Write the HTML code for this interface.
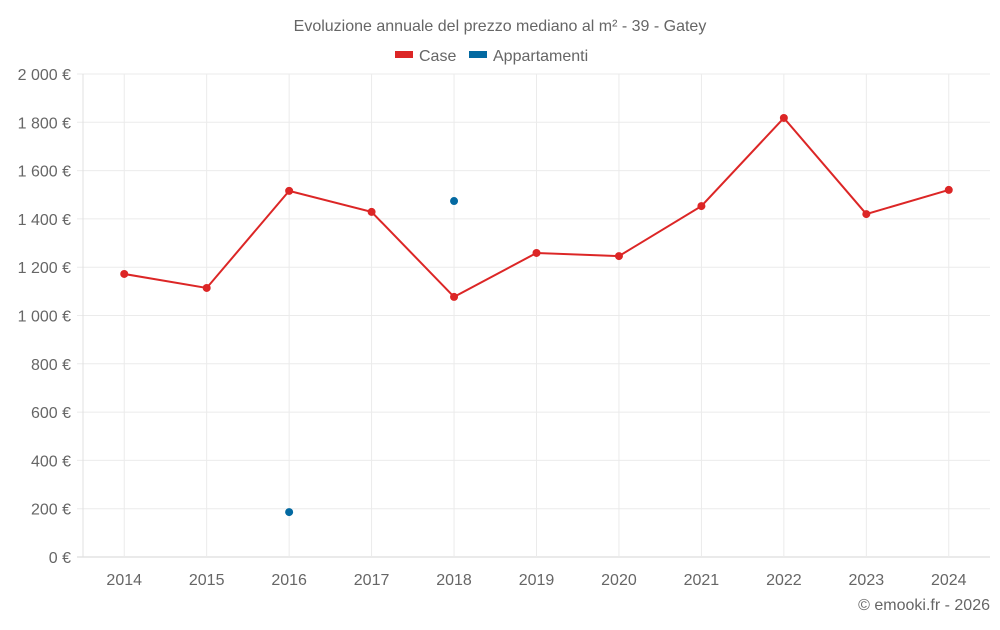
<!DOCTYPE html>
<html><head><meta charset="utf-8"><style>
body{margin:0;background:#fff;width:1000px;height:625px;overflow:hidden;font-family:"Liberation Sans",sans-serif}
text{font-family:"Liberation Sans",sans-serif;fill:#666}
</style></head><body>
<svg id="chart" width="1000" height="625" xmlns="http://www.w3.org/2000/svg">
<text x="500" y="31" text-anchor="middle" font-size="16">Evoluzione annuale del prezzo mediano al m² - 39 - Gatey</text>
<g><rect x="395" y="51" width="18" height="7" fill="#dc2626"/><text x="419" y="61" font-size="16">Case</text></g>
<g><rect x="469" y="51" width="18" height="7" fill="#0369a1"/><text x="493" y="61" font-size="16">Appartamenti</text></g>
<g id="grid"></g><g id="axes"></g><g id="marks"></g>
<text x="990" y="610" text-anchor="end" font-size="16">© emooki.fr - 2026</text>
</svg>
<script>
const years=["2014","2015","2016","2017","2018","2019","2020","2021","2022","2023","2024"];
const caseValues=[1172,1114,1516,1429,1077,1259,1246,1453,1818,1420,1520];
const apptValues=[null,null,186,null,1474,null,null,null,null,null,null];
const yTicks=[0,200,400,600,800,1000,1200,1400,1600,1800,2000];
const yTickLabels=["0 €","200 €","400 €","600 €","800 €","1 000 €","1 200 €","1 400 €","1 600 €","1 800 €","2 000 €"];
const L=83,R=990,T=74,B=557,NS="http://www.w3.org/2000/svg";
const bw=(R-L)/years.length;
const x=i=>L+bw*(i+0.5);
const y=v=>B-(v/2000)*(B-T);
function mk(tag,attrs,parent){const e=document.createElementNS(NS,tag);for(const k in attrs)e.setAttribute(k,attrs[k]);document.getElementById(parent).appendChild(e);return e;}
yTicks.forEach((v,i)=>{
 const g=mk('line',{x1:L-6,x2:R,y1:y(v),y2:y(v),stroke:v===0?'#d4d4d4':'#ebebeb','stroke-width':1},'grid');
 
 
 const t=mk('text',{x:L-12,y:y(v)+6,'text-anchor':'end','font-size':16},'axes');
 t.textContent=yTickLabels[i];
 
 
});
const ax=mk('line',{x1:L,x2:L,y1:T,y2:B,stroke:'#e0e0e0','stroke-width':1},'grid');


years.forEach((yr,i)=>{
 const g=mk('line',{x1:x(i),x2:x(i),y1:T,y2:B,stroke:'#ebebeb','stroke-width':1},'grid');
 
 
 const t=mk('text',{x:x(i),y:585,'text-anchor':'middle','font-size':16},'axes');
 t.textContent=yr;
 
 
});
const line=mk('polyline',{points:caseValues.map((v,i)=>x(i)+','+y(v)).join(' '),fill:'none',stroke:'#dc2626','stroke-width':2},'marks');


caseValues.forEach((v,i)=>{
 const c=mk('circle',{cx:x(i),cy:y(v),r:4,fill:'#dc2626'},'marks');
 
 
});
apptValues.forEach((v,i)=>{
 if(v==null)return;
 const c=mk('circle',{cx:x(i),cy:y(v),r:4,fill:'#0369a1'},'marks');
 
 
});
</script>
</body></html>
